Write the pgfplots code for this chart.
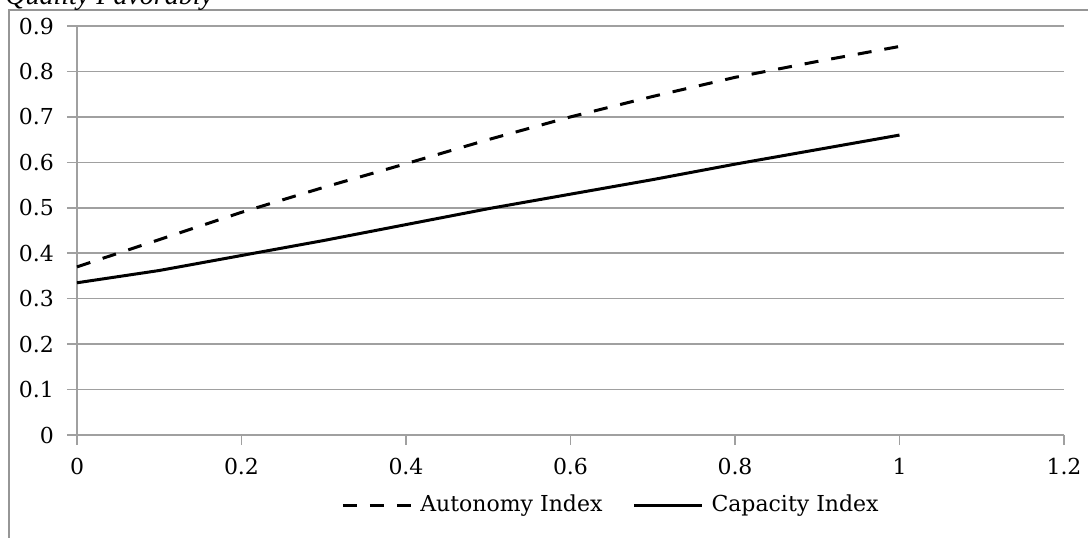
\documentclass[border=0pt]{standalone}
\usepackage{pgfplots}
\pgfplotsset{compat=1.18}
\usepackage{fontspec}
\setmainfont{DejaVu Serif}
\newfontfamily\titlefont{Liberation Serif}
\definecolor{gridgray}{HTML}{A0A0A0}
\definecolor{bordergray}{HTML}{969696}
\begin{document}
\begin{tikzpicture}
\useasboundingbox (-38.5pt,-51pt) rectangle (505.5pt,217.5pt);
\clip (-38.5pt,-51pt) rectangle (505.5pt,217.5pt);
\begin{axis}[
  at={(0,0)}, anchor=south west,
  scale only axis, width=493.5pt, height=204.5pt,
  xmin=0, xmax=1.2, ymin=0, ymax=0.9,
  xtick={0,0.2,0.4,0.6,0.8,1,1.2}, ytick={0,0.1,0.2,0.3,0.4,0.5,0.6,0.7,0.8,0.9},
  xticklabels={0,0.2,0.4,0.6,0.8,1,1.2},
  yticklabels={0,0.1,0.2,0.3,0.4,0.5,0.6,0.7,0.8,0.9},
  axis x line=bottom, axis y line=left,
  axis line style={gridgray, line width=0.9pt, -},
  ymajorgrids, grid style={gridgray, line width=0.75pt},
  major tick length=5pt,
  tick style={gridgray, line width=0.75pt},
  xtick align=outside, ytick align=outside,
  /pgf/number format/assume math mode=true,
  tick label style={font=\fontsize{11}{13}\selectfont, text=black},
  xticklabel style={yshift=-3pt},
  yticklabel style={xshift=-3pt},
  legend style={at={(266.5pt,-35pt)}, anchor=center, draw=none, fill=none,
    font=\fontsize{11}{13}\selectfont, legend columns=4,
    nodes={inner sep=0pt},
    /tikz/every odd column/.append style={column sep=4pt},
    /tikz/every even column/.append style={column sep=15pt}},
  legend cell align=left,
  legend image code/.code={\draw[#1] (0pt,0pt) -- (34pt,0pt);},
  clip=false,
]
\addplot[black, line width=1.5pt, dash pattern=on 7pt off 6.5pt] coordinates {
 (0,0.37) (0.1,0.43) (0.2,0.49) (0.3,0.545) (0.4,0.597) (0.5,0.65) (0.6,0.70) (0.7,0.745) (0.8,0.787) (0.9,0.822) (1.0,0.855)};
\addlegendentry{Autonomy Index}
\addplot[black, line width=1.5pt] coordinates {
 (0,0.335) (0.1,0.362) (0.2,0.395) (0.3,0.428) (0.4,0.463) (0.5,0.498) (0.6,0.530) (0.7,0.562) (0.8,0.596) (0.9,0.628) (1.0,0.66)};
\addlegendentry{Capacity Index}
\end{axis}
\draw[bordergray, line width=1.2pt] (-34pt,-60pt) -- (-34pt,212.5pt) -- (520pt,212.5pt);
\node[anchor=base west, font=\titlefont\itshape\fontsize{14}{16}\selectfont, inner sep=0pt] at (-36pt,215pt) {Quality Favorably};
\end{tikzpicture}
\end{document}
